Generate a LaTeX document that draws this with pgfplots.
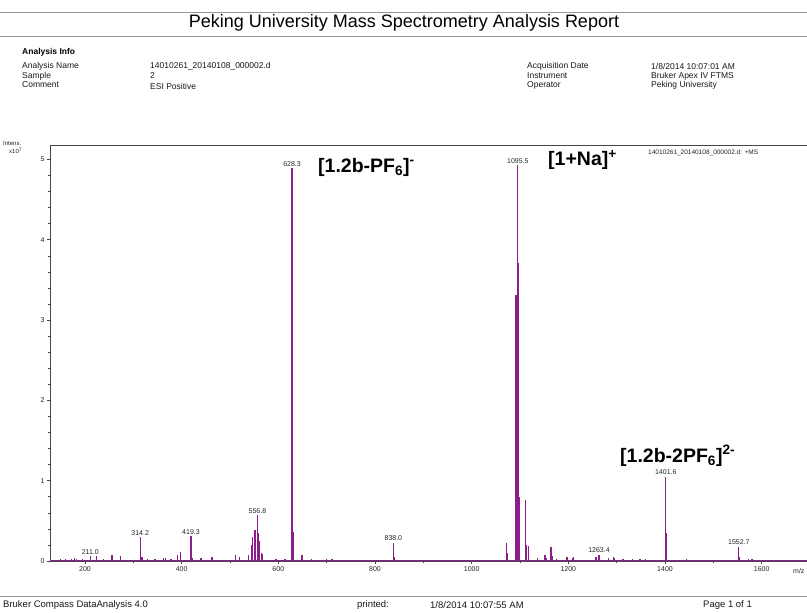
\documentclass[border=0pt]{standalone}
\usepackage{fontspec}
\setmainfont{Liberation Sans}
\usepackage{pgfplots}
\pgfplotsset{compat=1.18}
\definecolor{spec}{RGB}{140,30,140}
\definecolor{frame}{RGB}{70,70,70}
\definecolor{rule}{RGB}{150,150,150}
\begin{document}
\begin{tikzpicture}
\path[use as bounding box] (0,0) rectangle (807pt,-613pt);
\fill[white] (0,0) rectangle (807pt,-613pt);
% header
\draw[rule,line width=0.8pt] (0pt,-12pt) -- (807pt,-12pt);
\draw[rule,line width=0.8pt] (0pt,-36pt) -- (807pt,-36pt);
\node[font=\fontsize{18}{20}\selectfont] at (404pt,-23pt) {Peking University Mass Spectrometry Analysis Report};
\node[anchor=west,font=\fontsize{8.5}{10}\selectfont\bfseries, inner sep=0pt] at (22pt,-52pt) {Analysis Info};
\begin{scope}[every node/.style={anchor=west,font=\fontsize{8.5}{10}\selectfont, inner sep=0pt, text=black!90}]
\node at (22pt,-66pt) {Analysis Name};
\node at (22pt,-76pt) {Sample};
\node at (22pt,-85pt) {Comment};
\node at (150pt,-66pt) {14010261\_20140108\_000002.d};
\node at (150pt,-76pt) {2};
\node at (150pt,-86pt) {ESI Positive};
\node at (527pt,-66pt) {Acquisition Date};
\node at (527pt,-76pt) {Instrument};
\node at (527pt,-85pt) {Operator};
\node at (651pt,-66pt) {1/8/2014 10:07:01 AM};
\node at (651pt,-76pt) {Bruker Apex IV FTMS};
\node at (651pt,-85pt) {Peking University};
\end{scope}
% footer
\begin{scope}[every node/.style={anchor=west,font=\fontsize{9.5}{11}\selectfont, inner sep=0pt, text=black!90}]
\node at (3pt,-605pt) {Bruker Compass DataAnalysis 4.0};
\node at (357pt,-605pt) {printed:};
\node at (430pt,-605pt) {1/8/2014 10:07:55 AM};
\node at (703pt,-605pt) {Page 1 of 1};
\end{scope}
\draw[rule,line width=0.8pt] (0pt,-596pt) -- (807pt,-596pt);
% axis
\begin{axis}[
  at={(50pt,-561pt)}, anchor=south west,
  width=775pt, height=416pt, scale only axis,
  xmin=127.6, xmax=1731, ymin=0, ymax=5.18,
  axis line style={frame,line width=0.8pt},
  xtick={200,400,...,1600}, minor xtick={100,300,...,1700},
  ytick={0,1,2,3,4,5}, minor y tick num=4,
  tick align=outside, tick pos=left,
  major tick length=3pt, minor tick length=2pt,
  every tick/.style={frame,line width=0.6pt},
  tick label style={font=\fontsize{7}{8}\selectfont, text=black!85},
  xticklabel style={yshift=1pt},
  yticklabel style={xshift=1pt},
  /pgf/number format/assume math mode=true,
  /pgf/number format/1000 sep={},
  scaled y ticks=false,
  clip=true,
]
\addplot[spec, line width=1pt] coordinates {(127.6,0.01) (1731,0.01)};
\addplot[ycomb, spec, line width=1.3pt, mark=none] table[row sep=\\] {
x y\\
150 0.02\\ 160 0.02\\ 172 0.03\\ 178 0.04\\ 183 0.03\\ 195 0.02\\
211.0 0.06\\ 224 0.06\\ 239 0.03\\ 256 0.07\\ 274 0.06\\ 300 0.015\\
314.2 0.30\\ 318 0.05\\ 330 0.02\\ 345 0.02\\ 362 0.04\\ 366 0.04\\
378 0.02\\ 391 0.08\\ 397 0.11\\ 419.3 0.31\\ 422 0.04\\ 440 0.04\\
463 0.05\\ 490 0.01\\ 511 0.07\\ 519 0.05\\ 538 0.08\\ 544 0.20\\
546 0.30\\ 550 0.27\\ 552 0.38\\ 556.8 0.57\\ 558 0.35\\ 560 0.25\\
565 0.10\\ 567 0.09\\ 595 0.02\\ 614 0.02\\ 628.3 4.89\\ 629.3 1.24\\
630.3 0.36\\ 649 0.08\\ 669 0.02\\ 700 0.02\\ 711 0.02\\ 740 0.01\\
773 0.01\\ 800 0.01\\ 838.0 0.23\\ 839 0.05\\ 858 0.01\\ 900 0.01\\
940 0.01\\ 990 0.01\\ 1040 0.01\\ 1072 0.22\\ 1074 0.10\\
1091.5 3.31\\ 1093.5 2.0\\ 1095.5 4.93\\ 1096.5 3.71\\ 1097.5 2.2\\ 1098.5 0.8\\
1111 0.76\\ 1113 0.2\\ 1117 0.19\\ 1136 0.04\\ 1152 0.08\\ 1155 0.04\\
1164 0.18\\ 1166 0.06\\ 1176 0.03\\ 1197 0.05\\ 1208 0.04\\ 1211 0.05\\
1225 0.01\\ 1257 0.05\\ 1263.4 0.08\\ 1283 0.04\\ 1293 0.05\\ 1296 0.04\\
1313 0.02\\ 1333 0.02\\ 1348 0.02\\ 1359 0.02\\ 1401.6 1.05\\ 1402.6 0.35\\
1445 0.02\\ 1500 0.01\\ 1552.7 0.18\\ 1554 0.05\\ 1572 0.03\\ 1580 0.02\\
1620 0.01\\ 1660 0.01\\
};
\begin{scope}[every node/.style={font=\fontsize{7}{8}\selectfont, text=black!85, anchor=south, inner sep=1.5pt}]
\node at (axis cs:628.3,4.89) {628.3};
\node at (axis cs:1095.5,4.93) {1095.5};
\node at (axis cs:556.8,0.57) {556.8};
\node at (axis cs:314.2,0.30) {314.2};
\node at (axis cs:419.3,0.31) {419.3};
\node at (axis cs:211.0,0.06) {211.0};
\node at (axis cs:838.0,0.23) {838.0};
\node at (axis cs:1263.4,0.08) {1263.4};
\node at (axis cs:1401.6,1.05) {1401.6};
\node at (axis cs:1552.7,0.18) {1552.7};
\end{scope}
\end{axis}
% axis texts
\node[anchor=west,font=\fontsize{6}{6.5}\selectfont, text=black!85, inner sep=0pt] at (3pt,-143pt) {Intens.};
\node[anchor=west,font=\fontsize{6}{6.5}\selectfont, text=black!85, inner sep=0pt] at (9pt,-151pt) {x10\textsuperscript{7}};
\node[anchor=west,font=\fontsize{7}{8}\selectfont, text=black!85, inner sep=0pt] at (793pt,-571pt) {m/z};
\node[anchor=west,font=\fontsize{6.5}{7}\selectfont, text=black!85, inner sep=0pt] at (648pt,-153pt) {14010261\_20140108\_000002.d: +MS};
% big annotations
\begin{scope}[every node/.style={anchor=west,font=\fontsize{19.5}{21}\selectfont\bfseries, inner sep=0pt}]
\node at (318pt,-167pt) {[1.2b-PF\textsubscript{6}]\textsuperscript{-}};
\node at (548pt,-160pt) {[1+Na]\textsuperscript{+}};
\node at (620pt,-456pt) {[1.2b-2PF\textsubscript{6}]\textsuperscript{2-}};
\end{scope}
\end{tikzpicture}
\end{document}
